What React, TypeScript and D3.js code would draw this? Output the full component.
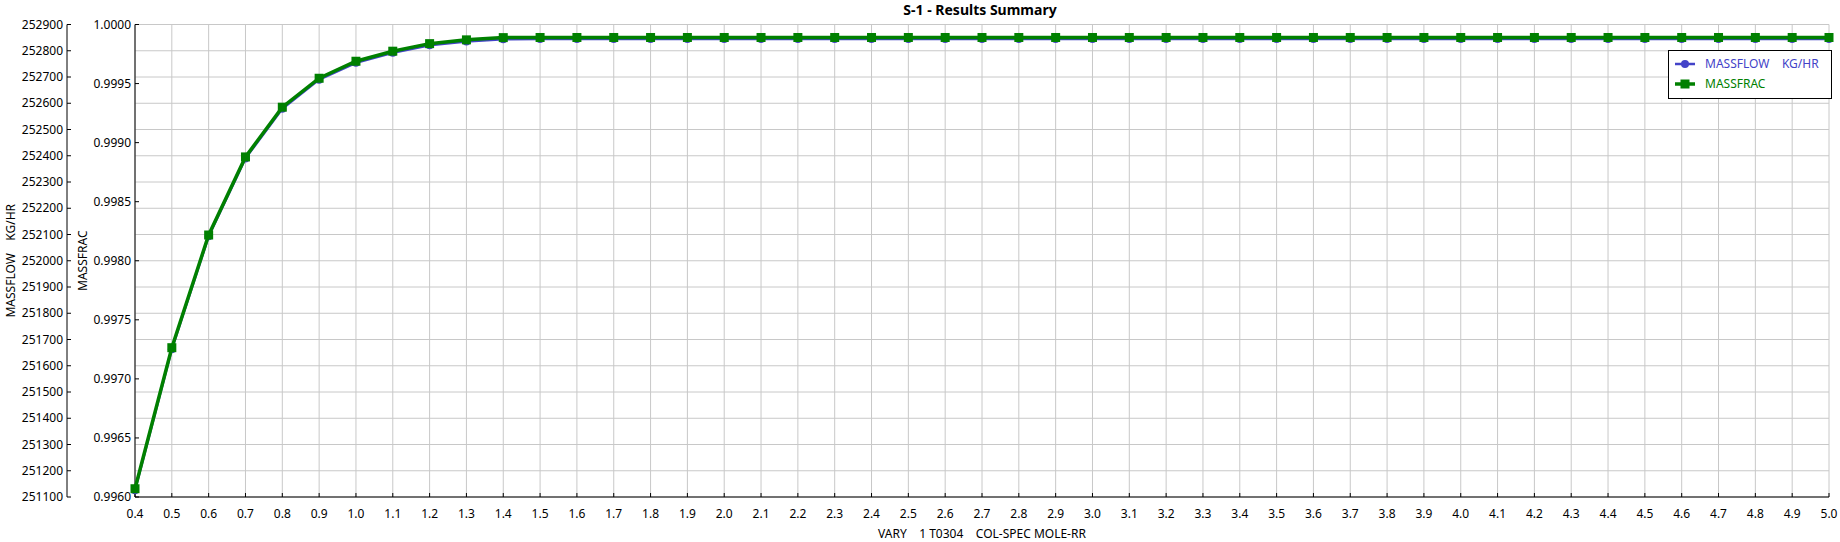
import { line, scaleLinear } from 'd3'

const varyValues = [
  0.4, 0.5, 0.6, 0.7, 0.8, 0.9, 1.0, 1.1, 1.2, 1.3, 1.4, 1.5, 1.6, 1.7, 1.8, 1.9,
  2.0, 2.1, 2.2, 2.3, 2.4, 2.5, 2.6, 2.7, 2.8, 2.9, 3.0, 3.1, 3.2, 3.3, 3.4, 3.5,
  3.6, 3.7, 3.8, 3.9, 4.0, 4.1, 4.2, 4.3, 4.4, 4.5, 4.6, 4.7, 4.8, 4.9, 5.0,
]

const massfracValues = [
  0.99607, 0.997264, 0.998218, 0.998879, 0.9993, 0.999545, 0.999689, 0.999774,
  0.999838, 0.99987, 0.999889, 0.99989, 0.99989, 0.99989, 0.99989, 0.99989,
  0.99989, 0.99989, 0.99989, 0.99989, 0.99989, 0.99989, 0.99989, 0.99989,
  0.99989, 0.99989, 0.99989, 0.99989, 0.99989, 0.99989, 0.99989, 0.99989,
  0.99989, 0.99989, 0.99989, 0.99989, 0.99989, 0.99989, 0.99989, 0.99989,
  0.99989, 0.99989, 0.99989, 0.99989, 0.99989, 0.99989, 0.99989,
]

const massflowValues = [
  251126, 251663, 252093, 252390, 252579, 252690, 252754, 252792,
  252821, 252835, 252844, 252845, 252845, 252845, 252845, 252845,
  252845, 252845, 252845, 252845, 252845, 252845, 252845, 252845,
  252845, 252845, 252845, 252845, 252845, 252845, 252845, 252845,
  252845, 252845, 252845, 252845, 252845, 252845, 252845, 252845,
  252845, 252845, 252845, 252845, 252845, 252845, 252845,
]

const flowTicks = [
  251100, 251200, 251300, 251400, 251500, 251600, 251700, 251800, 251900, 252000,
  252100, 252200, 252300, 252400, 252500, 252600, 252700, 252800, 252900,
]

const fracTicks = [0.996, 0.9965, 0.997, 0.9975, 0.998, 0.9985, 0.999, 0.9995, 1.0]

const width = 1840
const height = 542
const plot = { left: 135, right: 1829, top: 24.5, bottom: 497 }
const flowAxisX = 67

const blue = '#4343c8'
const green = '#008000'
const gridColor = '#c8c8c8'
const font = '"Noto Sans", "Open Sans", sans-serif'

function App() {
  const x = scaleLinear().domain([0.4, 5.0]).range([plot.left, plot.right])
  const yFlow = scaleLinear().domain([251100, 252900]).range([plot.bottom, plot.top])
  const yFrac = scaleLinear().domain([0.996, 1.0]).range([plot.bottom, plot.top])

  const flowLine = line<number>()
    .x((_, i) => x(varyValues[i]))
    .y((d) => yFlow(d))
  const fracLine = line<number>()
    .x((_, i) => x(varyValues[i]))
    .y((d) => yFrac(d))

  const midY = (plot.top + plot.bottom) / 2
  const midX = (plot.left + plot.right) / 2

  return (
    <div style={{ position: 'fixed', left: 0, top: 0 }}>
      <svg width={width} height={height} style={{ display: 'block', background: '#fff' }} fontFamily={font}>
        <text x={980} y={15} textAnchor="middle" fontSize={14} fontWeight="bold" fill="#000">
          S-1 - Results Summary
        </text>

        {flowTicks.map((t) => (
          <line key={`hg-${t}`} x1={plot.left} x2={plot.right} y1={yFlow(t)} y2={yFlow(t)} stroke={gridColor} strokeWidth={1} />
        ))}
        {varyValues.map((v) => (
          <line key={`vg-${v}`} x1={x(v)} x2={x(v)} y1={plot.top} y2={plot.bottom} stroke={gridColor} strokeWidth={1} />
        ))}

        {/* MASSFLOW axis */}
        <line x1={flowAxisX} x2={flowAxisX} y1={plot.top} y2={plot.bottom} stroke="#000" />
        {flowTicks.map((t) => (
          <g key={`ft-${t}`}>
            <line x1={flowAxisX} x2={flowAxisX + 4} y1={yFlow(t)} y2={yFlow(t)} stroke="#000" />
            <text x={flowAxisX - 4} y={yFlow(t)} dy="0.35em" textAnchor="end" fontSize={12} fill="#000">
              {t}
            </text>
          </g>
        ))}
        <text transform={`translate(15, ${midY}) rotate(-90)`} textAnchor="middle" fontSize={12} fill="#000" xmlSpace="preserve">
          {'MASSFLOW    KG/HR'}
        </text>

        {/* MASSFRAC axis */}
        <line x1={plot.left} x2={plot.left} y1={plot.top} y2={plot.bottom} stroke="#000" />
        {fracTicks.map((t) => (
          <g key={`rt-${t}`}>
            <line x1={plot.left} x2={plot.left + 4} y1={yFrac(t)} y2={yFrac(t)} stroke="#000" />
            <text x={plot.left - 4} y={yFrac(t)} dy="0.35em" textAnchor="end" fontSize={12} fill="#000">
              {t.toFixed(4)}
            </text>
          </g>
        ))}
        <text transform={`translate(87, ${midY}) rotate(-90)`} textAnchor="middle" fontSize={12} fill="#000">
          MASSFRAC
        </text>

        {/* x axis */}
        <line x1={plot.left} x2={plot.right} y1={plot.bottom} y2={plot.bottom} stroke="#000" />
        {varyValues.map((v) => (
          <g key={`xt-${v}`}>
            <line x1={x(v)} x2={x(v)} y1={plot.bottom} y2={plot.bottom - 4} stroke="#000" />
            <text x={x(v)} y={518} textAnchor="middle" fontSize={12} fill="#000">
              {v.toFixed(1)}
            </text>
          </g>
        ))}
        <text x={midX} y={538} textAnchor="middle" fontSize={12} fill="#000" xmlSpace="preserve">
          {'VARY    1 T0304    COL-SPEC MOLE-RR'}
        </text>

        {/* series */}
        <path d={flowLine(massflowValues) ?? ''} fill="none" stroke={blue} strokeWidth={2.5} />
        {massflowValues.map((d, i) => (
          <circle key={`fc-${i}`} cx={x(varyValues[i])} cy={yFlow(d)} r={4} fill={blue} />
        ))}
        <path d={fracLine(massfracValues) ?? ''} fill="none" stroke={green} strokeWidth={3.5} />
        {massfracValues.map((d, i) => (
          <rect key={`fs-${i}`} x={x(varyValues[i]) - 4.5} y={yFrac(d) - 4.5} width={9} height={9} fill={green} />
        ))}

        {/* legend */}
        <rect x={1668.5} y={50.5} width={163} height={48} fill="#fff" stroke="#000" strokeWidth={1} />
        <line x1={1675} x2={1695} y1={64} y2={64} stroke={blue} strokeWidth={2.5} />
        <circle cx={1685} cy={64} r={4} fill={blue} />
        <text x={1705} y={64} dy="0.35em" fontSize={12} fill={blue} xmlSpace="preserve">
          {'MASSFLOW    KG/HR'}
        </text>
        <line x1={1675} x2={1695} y1={84} y2={84} stroke={green} strokeWidth={3.5} />
        <rect x={1680.5} y={79.5} width={9} height={9} fill={green} />
        <text x={1705} y={84} dy="0.35em" fontSize={12} fill={green}>
          MASSFRAC
        </text>
      </svg>
    </div>
  )
}

export default App
